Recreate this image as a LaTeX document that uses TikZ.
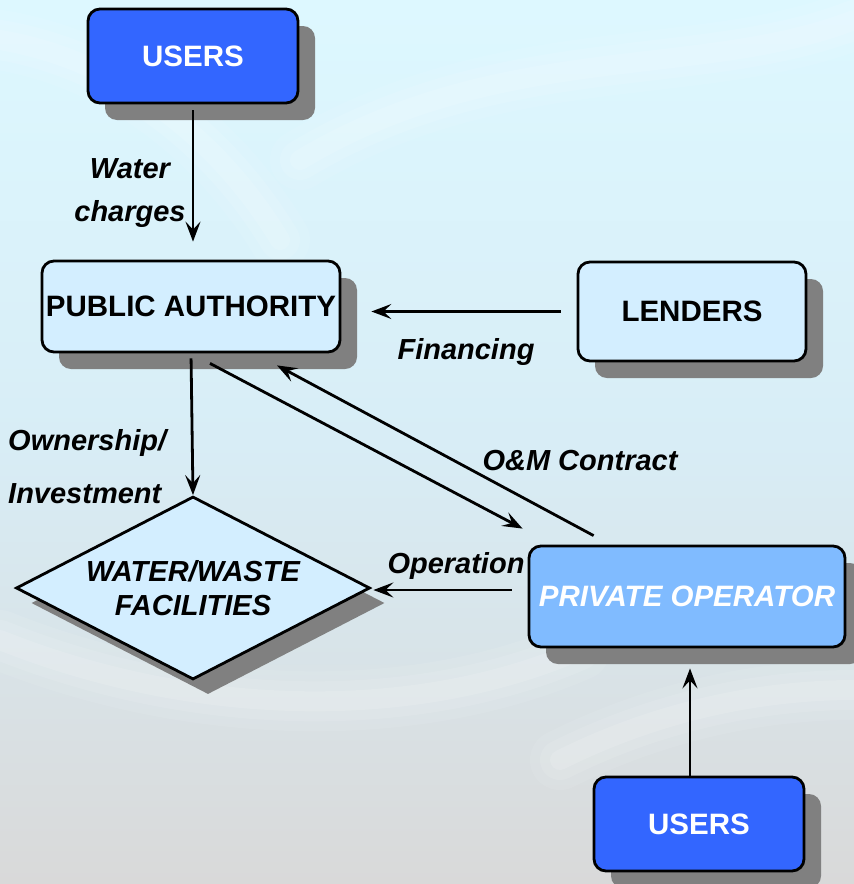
\documentclass[tikz,border=0pt]{standalone}
\usepackage{fontspec}
\setmainfont{Liberation Sans}
\usetikzlibrary{arrows.meta,shapes.geometric,shadows,calc}
\definecolor{usersblue}{HTML}{3366FF}
\definecolor{paleblue}{HTML}{D3EEFF}
\definecolor{opblue}{HTML}{80BBFF}
\definecolor{shadowgray}{HTML}{808080}
\definecolor{bgtop}{HTML}{DDF8FF}
\definecolor{bgmid}{HTML}{D8EDF6}
\definecolor{bgbot}{HTML}{D9D9D9}
\tikzset{
  box/.style={draw=black, line width=2.8pt, rounded corners=12pt, inner sep=0pt,
    font=\fontsize{29.5}{34}\selectfont\bfseries, align=center,
    drop shadow={fill=shadowgray, opacity=1, shadow xshift=17pt, shadow yshift=-17pt}},
  usersbox/.style={box, fill=usersblue, text=white, minimum width=210pt, minimum height=94pt},
  palebox/.style={box, fill=paleblue, text=black},
  lbl/.style={font=\fontsize{29}{34}\selectfont\bfseries\itshape, inner sep=0pt},
  arr/.style={line width=2.8pt, -{Stealth[length=20pt, width=15pt, inset=8pt]}},
}
\begin{document}
\begin{tikzpicture}[x=1pt, y=-1pt]
\useasboundingbox (0,0) rectangle (854,884);
\shade[top color=bgtop, bottom color=bgbot, middle color=bgmid] (0,0) rectangle (854,884);
% soft swirls in the background
\begin{scope}[line cap=round]
\foreach \w/\o in {60/0.08,40/0.10,20/0.12}{
  \draw[white, opacity=\o, line width=\w pt] (300,160) .. controls (500,40) and (700,80) .. (854,20);
  \draw[white, opacity=\o, line width=\w pt] (0,640) .. controls (200,720) and (420,720) .. (580,650);
  \draw[white, opacity=\o, line width=\w pt] (560,760) .. controls (680,700) and (790,690) .. (854,690);
  \draw[white, opacity=\o, line width=\w pt] (0,40) .. controls (120,60) and (220,140) .. (280,240);
}
\end{scope}

\node[usersbox] (users1) at (193,56) {USERS};
\node[palebox, minimum width=298pt, minimum height=91pt] (pa) at (191,306.5) {PUBLIC AUTHORITY};
\node[palebox, minimum width=228pt, minimum height=99pt] (lenders) at (692,311.5) {LENDERS};
\node[box, fill=opblue, text=white, font=\fontsize{29.5}{34}\selectfont\bfseries\itshape,
      minimum width=316pt, minimum height=101pt] (po) at (687,596.5) {PRIVATE OPERATOR};
\node[usersbox] (users2) at (699,824) {USERS};
\node[diamond, draw=black, line width=2.8pt, fill=paleblue, inner sep=0pt, aspect=1.93,
      minimum width=354pt, minimum height=183pt, align=center,
      font=\fontsize{29}{34}\selectfont\bfseries\itshape,
      drop shadow={fill=shadowgray, opacity=1, shadow xshift=15pt, shadow yshift=-15pt}]
      (fac) at (193,588) {WATER/WASTE\\FACILITIES};

% connectors
\draw[arr, shorten <=6pt, shorten >=18pt] (users1.south) -- (users1.south |- pa.north);
\draw[arr, shorten <=16pt, shorten >=30pt] (lenders.west) -- (lenders.west -| pa.east);
\draw[arr, shorten <=5pt] (pa.south) -- (fac.north);
\draw[arr] ($(pa.south)+(19,10)$) -- ($(po.north west)+(-5,-16)$);
\draw[arr] ($(po.north west)+(66,-9)$) -- ($(pa.south)+(86,12)$);
\draw[arr] ($(po.west)+(-16,-6.5)$) -- ($(fac.east)+(2,2)$);
\draw[arr] ($(users2.north)+(-9,0)$) -- ($(po.south)+(3,20)$);

% labels
\node[lbl, align=center, font=\fontsize{29}{43}\selectfont\bfseries\itshape] (lwater) at (130,193) {Water\\charges};
\node[lbl, align=left, anchor=west, font=\fontsize{29}{53}\selectfont\bfseries\itshape] (lown) at (8,467) {Ownership/\\Investment};
\node[lbl] (lfin) at (466,352) {Financing};
\node[lbl] (lom) at (580,461) {O\&M Contract};
\node[lbl] (lop) at (456,566) {Operation};
\end{tikzpicture}
\end{document}
